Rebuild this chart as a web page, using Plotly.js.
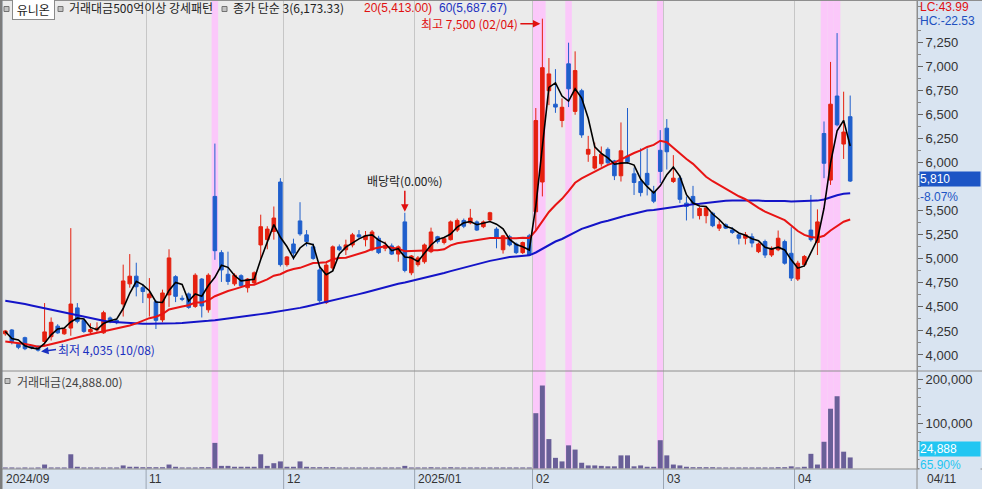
<!DOCTYPE html>
<html>
<head>
<meta charset="utf-8">
<script src="https://cdn.plot.ly/plotly-3.0.1.min.js"></script>
<style>
html, body { margin: 0; padding: 0; background: #d9e4f1; }
#chart { width: 982px; height: 489px; }
</style>
</head>
<body>
<div id="chart"></div>
<script>
// 유니온 daily candles, 2024/09/27 .. 2025/04/11 (130 trading days)
var opens = [4220,4260,4110,4180,4090,4090,4140,4190,4300,4220, 4280,4490,4360,4240,4260,4230,4385,4360,4530,4740,
  4820,4700,4595,4555,4365,4625,4815,4590,4635,4505, 4790,4470,5650,5065,4840,4740,4825,4700,4750,5145,
  5200,5285,5800,4940,5155,5395,5250,5125,4885,4545, 4905,5125,5095,5145,5250,5200,5095,5215,5110,5135,
  5050,5385,4855,4940,4970,5075,5230,5170,5200,5300, 5400,5375,5385,5335,5405,5310,5095,5230,5155,5065,
  5240,5490,5800,6750,6610,6440,7030,6535,6750,6090, 5945,5990,6140,6020,5865,6070,5885,5805,5890,5700,
  6130,6360,5805,5840,5580,5650,5450,5450,5475,5320, 5355,5300,5250,5215,5230,5075,5180,5040,5095,5180,
  5058,4790,4940,5300,5170,6305,5820,6695,6195,6480];
var highs = [4260,4270,4120,4190,4100,4100,4540,4390,4320,4280, 5320,4540,4380,4330,4340,4460,4400,4370,4940,5050,
  4960,4740,4800,4570,4680,5100,4830,4620,4650,4850, 4800,4850,6200,5090,5075,4850,4840,4800,4870,5460,
  5340,5545,5840,5030,5210,5590,5300,5160,4920,4960, 5140,5150,5200,5270,5300,5290,5300,5240,5180,5160,
  5140,5480,5040,5030,5160,5325,5240,5230,5400,5420, 5420,5520,5400,5400,5490,5330,5250,5250,5170,5180,
  5260,6570,7500,7090,6975,6670,7250,7160,6770,6280, 6210,6170,6160,6030,6420,6570,5950,6150,6150,5760,
  6340,6455,6080,5870,5650,5760,5540,5545,5490,5400, 5370,5330,5265,5280,5265,5170,5200,5130,5295,5200,
  5330,4980,5040,5665,5515,6430,7050,7350,6740,6700];
var lows = [4200,4110,4060,4050,4060,4035,4090,4150,4220,4210, 4200,4330,4230,4220,4240,4220,4330,4320,4400,4700,
  4610,4540,4400,4270,4340,4500,4550,4560,4480,4490, 4390,4440,4990,4760,4730,4720,4700,4650,4730,5000,
  5100,5200,4920,4920,4990,5240,5130,4990,4545,4530, 4880,5080,5040,5120,5210,5130,5080,5050,5080,5040,
  4970,4860,4830,4920,4950,5060,5160,5150,5190,5280, 5320,5360,5290,5320,5390,5110,5055,5130,5050,5050,
  5030,5300,5650,6600,6520,6370,6580,6500,6260,6010, 5930,5960,5990,5820,5805,5990,5665,5650,5660,5580,
  5790,5930,5790,5580,5400,5420,5410,5370,5330,5290, 5310,5260,5150,5150,5120,5060,5010,5020,5080,4940,
  4770,4770,4920,5180,5040,5840,5770,6380,6040,5800];
var closes = [4250,4140,4080,4065,4075,4050,4240,4340,4230,4270, 4530,4350,4245,4265,4280,4440,4345,4335,4770,4820,
  4710,4660,4635,4360,4645,5010,4610,4580,4495,4830, 4510,4830,5085,4885,4765,4830,4720,4790,4855,5335,
  5310,5425,4940,5020,5060,5260,5180,5005,4565,4935, 5125,5095,5145,5250,5230,5240,5280,5065,5140,5050,
  5125,4880,5030,5010,5145,5280,5180,5210,5385,5400, 5340,5425,5300,5385,5480,5220,5240,5145,5065,5170,
  5040,6440,6990,6925,6580,6578,6770,6960,6290,6140, 6065,6090,6000,5865,6125,6010,5795,5690,5770,5600,
  5910,6115,5840,5620,5545,5580,5525,5530,5345,5355, 5320,5275,5215,5250,5165,5155,5040,5110,5215,4955,
  4800,4955,5025,5200,5385,5995,6610,6395,6320,5810];
// 거래대금 (백만원)
var amount = [2500,2500,2000,2500,2000,2500,9000,2500,2500,2500, 32000,4000,2500,2500,2500,2500,2500,2500,7000,4000,
  4000,3000,3000,3000,3000,9000,4000,2500,2500,2500, 3000,3000,57500,6000,6000,4000,4000,4000,4000,32000,
  6000,12000,16000,4000,4000,16000,4000,3000,3000,3000, 3000,2500,2500,2500,2500,2500,2500,2500,2500,2500,
  2500,6000,2500,2500,2500,3000,2500,2500,3000,2500, 2500,2500,2500,2500,2500,2500,2500,2500,2500,2500,
  2500,124000,186000,66000,24000,16000,52000,42500,13000,7000, 7000,6000,5000,5000,29500,29500,5000,7000,4000,4000,
  63500,29500,9000,7000,4000,3000,3000,3000,3000,2500, 2500,2500,2500,2500,2500,2500,2500,2500,3000,3000,
  5000,2500,4000,33000,9000,60000,134000,162000,37770,24888];

// moving averages before enough history is in view
var ma3Early = [4245, 4170];
var ma20Early = [4140,4132,4125,4115,4100,4085,4095,4110,4125,4145, 4165,4185,4200,4215,4230,4245,4258,4272,4290];
var ma60Early = [4565,4555,4545,4530,4515,4500,4485,4470,4455,4440, 4425,4410,4395,4380,4365,4355,4345,4340,4335,4330,
  4328,4326,4325,4325,4326,4328,4330,4333,4337,4342, 4348,4355,4362,4370,4378,4387,4396,4405,4415,4425,
  4435,4445,4455,4465,4475,4490,4505,4520,4535,4550, 4565,4582,4600,4617,4633,4650,4668,4688,4707];

var monthIdx = [0, 22, 43, 63, 81, 101, 121];
var monthLbl = ['2024/09', '11', '12', '2025/01', '02', '03', '04'];
var signalIdx = [32, 81, 82, 86, 100, 125, 126, 127];   // 거래대금500억이상 강세패턴
var exDivIdx = 61;
// 5,750 sits under the current-price box, so it is not labelled
var priceTicks = [4000,4250,4500,4750,5000,5250,5500,6000,6250,6500,6750,7000,7250];
var volTicks = [100000, 200000];

var RED = '#e5200f', BLUE = '#1f5fcc', AXBG = '#d9e4f1';
var idx = closes.map(function (c, i) { return i; });

function sma(arr, n, early) {
  return arr.map(function (v, i) {
    if (i < n - 1) return early[i];
    var s = 0;
    for (var k = i - n + 1; k <= i; k++) s += arr[k];
    return s / n;
  });
}

// pixel -> paper helpers (plot area 3..917 x 1..469)
function px(x) { return (x - 3) / 914; }
function py(y) { return (469 - y) / 468; }

var hiIdx = highs.indexOf(Math.max.apply(null, highs));
var loIdx = lows.indexOf(Math.min.apply(null, lows));

var traces = [
  {
    type: 'candlestick', x: idx, open: opens, high: highs, low: lows, close: closes,
    xaxis: 'x', yaxis: 'y', whiskerwidth: 0, hoverinfo: 'skip',
    increasing: { line: { color: RED, width: 1 }, fillcolor: RED },
    decreasing: { line: { color: BLUE, width: 1 }, fillcolor: BLUE }
  },
  { type: 'scatter', mode: 'lines', x: idx, y: sma(closes, 60, ma60Early), line: { color: '#1414c8', width: 2 }, hoverinfo: 'skip' },
  { type: 'scatter', mode: 'lines', x: idx, y: sma(closes, 20, ma20Early), line: { color: '#e81414', width: 2 }, hoverinfo: 'skip' },
  { type: 'scatter', mode: 'lines', x: idx, y: sma(closes, 3, ma3Early), line: { color: '#000000', width: 1.6 }, hoverinfo: 'skip' },
  { type: 'bar', x: idx, y: amount, xaxis: 'x', yaxis: 'y2', width: 0.76, marker: { color: '#695f98', line: { width: 0 } }, hoverinfo: 'skip' }
];

var shapes = [];
signalIdx.forEach(function (s) {
  shapes.push({ type: 'rect', xref: 'x', yref: 'paper', x0: s - 0.5, x1: s + 0.5, y0: 0, y1: 1,
    fillcolor: '#fbc8fa', line: { width: 0 }, layer: 'below' });
});
monthIdx.slice(1).forEach(function (m) {
  shapes.push({ type: 'line', xref: 'x', yref: 'paper', x0: m - 0.5, x1: m - 0.5, y0: py(489), y1: 0,
    line: { color: '#9ba5b2', width: 1 } });
});
// panel borders
shapes.push({ type: 'line', xref: 'paper', yref: 'paper', x0: px(0), x1: px(982), y0: py(371), y1: py(371), line: { color: '#8e8e8e', width: 1 } });
shapes.push({ type: 'line', xref: 'paper', yref: 'paper', x0: px(0), x1: px(982), y0: 0, y1: 0, line: { color: '#8e8e8e', width: 1 } });
shapes.push({ type: 'line', xref: 'paper', yref: 'paper', x0: 1, x1: 1, y0: py(489), y1: 1, line: { color: '#8e8e8e', width: 1 } });
shapes.push({ type: 'line', xref: 'paper', yref: 'paper', x0: px(0), x1: px(982), y0: py(0.5), y1: py(0.5), line: { color: '#8e8e8e', width: 1 } });
shapes.push({ type: 'rect', xref: 'paper', yref: 'paper', x0: px(0), x1: px(2.5), y0: py(489), y1: py(0), fillcolor: '#7c7c7c', line: { width: 0 } });
// little legend squares
[[4, 9], [58, 9], [222, 9], [5, 381]].forEach(function (p) {
  shapes.push({ type: 'rect', xref: 'paper', yref: 'paper', x0: px(p[0]), x1: px(p[0] + 5), y0: py(p[1] + 2.5), y1: py(p[1] - 2.5),
    fillcolor: '#c2c2c2', line: { color: '#727272', width: 1 } });
});

var KR = 'Noto Sans CJK KR';
function hdr(x, y, text, color, family) {
  return { xref: 'paper', yref: 'paper', x: px(x), y: py(y), xanchor: 'left', yanchor: 'middle', showarrow: false,
    text: text, font: { family: family || KR, size: 12, color: color } };
}
var annotations = [
  { xref: 'paper', yref: 'paper', x: px(12), y: py(9), xanchor: 'left', yanchor: 'middle', showarrow: false,
    text: ' 유니온 ', bgcolor: '#ffffff', bordercolor: '#8a8a8a', borderwidth: 1, borderpad: 1, font: { family: KR, size: 12, color: '#222' } },
  hdr(67, 8, '거래대금500억이상 강세패턴', '#222'),
  hdr(231, 8, '종가 단순 3(6,173.33)', '#222'),
  hdr(362, 8, '20(5,413.00)', '#e01010', 'Liberation Sans'),
  hdr(437, 8, '60(5,687.67)', '#1a30c0', 'Liberation Sans'),
  hdr(15, 381, '거래대금(24,888.00)', '#444'),
  { xref: 'paper', yref: 'paper', x: px(918), y: py(7), xanchor: 'left', yanchor: 'middle', showarrow: false,
    text: 'LC:43.99', font: { family: 'Liberation Sans', size: 12, color: '#e01010' } },
  { xref: 'paper', yref: 'paper', x: px(918), y: py(21), xanchor: 'left', yanchor: 'middle', showarrow: false,
    text: 'HC:-22.53', font: { family: 'Liberation Sans', size: 12, color: '#2050c0' } },
  { xref: 'paper', yref: 'y', x: 1, y: closes[closes.length - 1], xanchor: 'left', yanchor: 'top', showarrow: false,
    text: '-8.07%', width: 60, align: 'left', bgcolor: AXBG, borderpad: 0, yshift: -8, xshift: 2,
    font: { family: 'Liberation Sans', size: 12, color: '#1d55c5' } },
  { xref: 'paper', yref: 'y', x: 1, y: closes[closes.length - 1], xanchor: 'left', yanchor: 'middle', showarrow: false,
    text: '5,810', width: 60, align: 'left', bgcolor: '#1d55c5', borderpad: 0, xshift: 2, yshift: 2,
    font: { family: 'Liberation Sans', size: 12, color: '#ffffff' } },
  { xref: 'paper', yref: 'y2', x: 1, y: amount[amount.length - 1], xanchor: 'left', yanchor: 'top', showarrow: false,
    text: '65.90%', width: 60, align: 'left', bgcolor: AXBG, borderpad: 0, yshift: 0, xshift: 2,
    font: { family: 'Liberation Sans', size: 12, color: '#22c6f2' } },
  { xref: 'paper', yref: 'y2', x: 1, y: amount[amount.length - 1], xanchor: 'left', yanchor: 'middle', showarrow: false,
    text: '24,888', width: 60, align: 'left', bgcolor: '#22c6f2', borderpad: 0, xshift: 2, yshift: 8,
    font: { family: 'Liberation Sans', size: 12, color: '#ffffff' } },
  { xref: 'paper', yref: 'paper', x: px(925), y: py(479), xanchor: 'left', yanchor: 'middle', showarrow: false,
    text: '04/11', font: { family: 'Liberation Sans', size: 12, color: '#333' } },
  { xref: 'x', yref: 'y', x: hiIdx, y: highs[hiIdx], xshift: -2, yshift: -5, ax: -20, ay: 0, xanchor: 'right', showarrow: true,
    arrowhead: 2, arrowsize: 1, arrowwidth: 1.5, arrowcolor: '#e01010', standoff: 0,
    text: '최고 7,500 (02/04)', font: { family: KR, size: 12, color: '#e01010' } },
  { xref: 'x', yref: 'y', x: loIdx, y: lows[loIdx], xshift: 3, ax: 15, ay: -2, xanchor: 'left', showarrow: true,
    arrowhead: 2, arrowsize: 1, arrowwidth: 1.5, arrowcolor: '#1a30c0', standoff: 0,
    text: '최저 4,035 (10/08)', font: { family: KR, size: 12, color: '#1a30c0' } },
  { xref: 'x', yref: 'y', x: exDivIdx, y: highs[exDivIdx], ax: 0, ay: -22, yanchor: 'bottom', showarrow: true,
    arrowhead: 2, arrowsize: 1, arrowwidth: 1.5, arrowcolor: '#e01010', standoff: 1,
    text: '배당락(0.00%)', font: { family: KR, size: 12, color: '#222' } }
];
monthIdx.forEach(function (m, k) {
  annotations.push({ xref: 'x', yref: 'paper', x: k === 0 ? -0.35 : m - 0.5, y: py(479), xanchor: 'left', yanchor: 'middle',
    xshift: 1, showarrow: false, text: monthLbl[k], font: { family: 'Liberation Sans', size: 12, color: '#333' } });
});

var layout = {
  width: 982, height: 489,
  margin: { l: 3, r: 65, t: 1, b: 20, pad: 0 },
  paper_bgcolor: AXBG, plot_bgcolor: '#ebebeb',
  showlegend: false, boxgap: 0.22,
  font: { family: 'Liberation Sans', size: 12, color: '#333' },
  xaxis: {
    anchor: 'y2', range: [-0.35, 139.2], fixedrange: true, rangeslider: { visible: false },
    tickmode: 'array', tickvals: monthIdx.slice(1).map(function (m) { return m - 0.5; }),
    showticklabels: false, ticks: '', showgrid: true, gridcolor: '#c6c6c6', gridwidth: 1, zeroline: false, showline: false
  },
  yaxis: {
    domain: [py(371), 1], range: [3833, 7684], side: 'right', anchor: 'x', fixedrange: true,
    tickmode: 'array', tickvals: priceTicks, tickformat: ',d', ticks: 'outside', ticklen: 5, tickcolor: '#666',
    minor: { dtick: 125, ticks: 'outside', ticklen: 3, tickcolor: '#888', showgrid: false },
    showgrid: false, zeroline: false, showline: true, linecolor: '#8e8e8e',
    tickfont: { family: 'Liberation Sans', size: 13, color: '#333' }
  },
  yaxis2: {
    domain: [0, py(371)], range: [-1000, 218500], side: 'right', anchor: 'x', fixedrange: true,
    tickmode: 'array', tickvals: volTicks, tickformat: ',d', ticks: 'outside', ticklen: 5, tickcolor: '#666',
    minor: { dtick: 20000, ticks: 'outside', ticklen: 3, tickcolor: '#888', showgrid: false },
    showgrid: false, zeroline: false, showline: true, linecolor: '#8e8e8e',
    tickfont: { family: 'Liberation Sans', size: 13, color: '#333' }
  },
  shapes: shapes,
  annotations: annotations
};

Plotly.newPlot('chart', traces, layout, { displayModeBar: false, staticPlot: true });
</script>
</body>
</html>
